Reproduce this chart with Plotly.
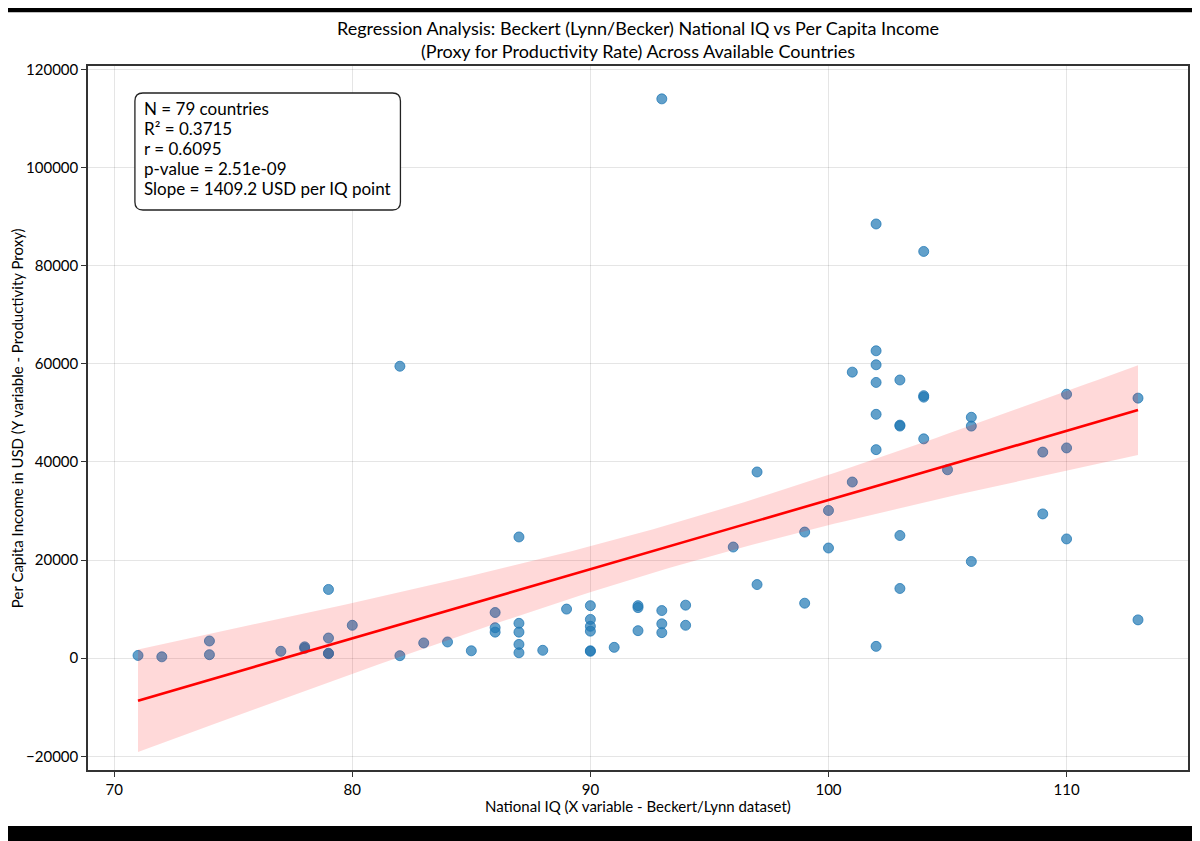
"""
Regression scatter: national IQ vs per capita income
"""
import numpy as np
import plotly.graph_objects as go

# ---- data ----
iq = [71, 72, 74, 74, 77, 78, 78, 79, 79, 79, 79, 80,
      82, 82, 83, 84, 85, 86, 86, 86, 87, 87, 87, 87, 87, 88, 89,
      90, 90, 90, 90, 90, 90, 91, 92, 92, 92, 93, 93, 93, 93, 94, 94,
      96, 97, 97, 99, 99, 100, 100, 101, 101,
      102, 102, 102, 102, 102, 102, 102, 103, 103, 103, 103, 103,
      104, 104, 104, 104, 105, 106, 106, 106, 109, 109, 110, 110, 110, 113, 113]
income = [550, 270, 3500, 700, 1400, 2000, 2300, 14000, 4100, 900, 1000, 6700,
          59500, 500, 3100, 3300, 1500, 9300, 6200, 5300, 24700, 7100, 5300, 2800, 1100, 1600, 10000,
          10700, 7900, 6500, 5500, 1400, 1500, 2200, 10700, 10300, 5600, 114000, 9700, 7000, 5200, 10800, 6700,
          22650, 37950, 15000, 25700, 11200, 30100, 22450, 35900, 58300,
          88500, 62650, 59800, 56200, 49700, 42500, 2400, 56700, 47500, 47300, 25000, 14200,
          82900, 53500, 53200, 44700, 38400, 49100, 47300, 19700, 42000, 29400, 53800, 42850, 24300, 53000, 7800]

stats_lines = [
    "N = 79 countries",
    "R² = 0.3715",
    "r = 0.6095",
    "p-value = 2.51e-09",
    "Slope = 1409.2 USD per IQ point",
]

# ---- linear fit + 95% confidence band ----
x = np.array(iq, dtype=float)
y = np.array(income, dtype=float)
n = len(x)
slope, intercept = np.polyfit(x, y, 1)
resid = y - (intercept + slope * x)
s = np.sqrt((resid ** 2).sum() / (n - 2))
sxx = ((x - x.mean()) ** 2).sum()
xs = np.linspace(x.min(), x.max(), 100)
ys = intercept + slope * xs
half = 1.991 * s * np.sqrt(1 / n + (xs - x.mean()) ** 2 / sxx)

FONT = "Lato"

# the page body adds an 8px offset, so the figure is laid out 8px up/left
OFF = 8
W, H = 1200 - OFF, 841 - OFF
L, R, T, B = 88 - OFF, 1190 - OFF, 66 - OFF, 770 - OFF


def px(v):
    return (v - OFF - L) / (R - L)


def py(v):
    return (B - (v - OFF)) / (B - T)


fig = go.Figure()

fig.add_trace(go.Scatter(
    x=iq, y=income, mode="markers",
    marker=dict(size=10, color="rgba(31,119,180,0.7)",
                line=dict(width=1, color="rgba(31,119,180,0.75)")),
    showlegend=False, hoverinfo="x+y",
))

fig.add_trace(go.Scatter(
    x=np.concatenate([xs, xs[::-1]]),
    y=np.concatenate([ys + half, (ys - half)[::-1]]),
    fill="toself", fillcolor="rgba(255,0,0,0.15)",
    line=dict(width=0), mode="lines", showlegend=False, hoverinfo="skip",
))

fig.add_trace(go.Scatter(
    x=xs, y=ys, mode="lines", line=dict(color="red", width=2.6),
    showlegend=False, hoverinfo="skip",
))

# rounded box behind the stats text
x0, x1, y0, y1 = px(135), px(401), py(210), py(93)
rx, ry = 8 / (R - L), 8 / (B - T)
box = (f"M {x0+rx},{y1} L {x1-rx},{y1} Q {x1},{y1} {x1},{y1-ry} "
       f"L {x1},{y0+ry} Q {x1},{y0} {x1-rx},{y0} "
       f"L {x0+rx},{y0} Q {x0},{y0} {x0},{y0+ry} "
       f"L {x0},{y1-ry} Q {x0},{y1} {x0+rx},{y1} Z")

shapes = [
    dict(type="path", xref="paper", yref="paper", path=box,
         fillcolor="white", line=dict(color="#222", width=1.3), layer="above"),
    # letterbox bars
    dict(type="rect", xref="paper", yref="paper", x0=-0.2, x1=1.2,
         y0=py(12.3), y1=1.3, fillcolor="black", line=dict(width=0)),
    dict(type="rect", xref="paper", yref="paper", x0=-0.2, x1=1.2,
         y0=-0.3, y1=py(826), fillcolor="black", line=dict(width=0)),
]

annotations = [
    dict(xref="paper", yref="paper", x=0.5, y=py(806), xanchor="center", yanchor="middle",
         text="National IQ (X variable - Beckert/Lynn dataset)", showarrow=False,
         font=dict(family=FONT, size=15, color="black")),
    dict(xref="paper", yref="paper", x=px(17), y=0.5, xanchor="center", yanchor="middle",
         text="Per Capita Income in USD (Y variable - Productivity Proxy)", showarrow=False,
         textangle=-90, font=dict(family=FONT, size=15, color="black")),
]
for i, line in enumerate(stats_lines):
    annotations.append(dict(
        xref="paper", yref="paper", x=px(142), y=py(109 + 19.75 * i),
        xanchor="left", yanchor="middle", text=line, showarrow=False,
        font=dict(family=FONT, size=17, color="black"),
    ))

axis_common = dict(
    showline=True, linecolor="#333", linewidth=1.5, mirror=True,
    ticks="outside", ticklen=5, tickcolor="#333", tickwidth=1.2,
    showgrid=True, gridcolor="rgba(0,0,0,0.1)", gridwidth=1,
    zeroline=False, tickfont=dict(family=FONT, size=15, color="black"),
)

fig.update_layout(
    width=W, height=H,
    margin=dict(l=L, r=W - R, t=T, b=H - B),
    paper_bgcolor="white", plot_bgcolor="white",
    title=dict(
        text="Regression Analysis: Beckert (Lynn/Becker) National IQ vs Per Capita Income<br>"
             "(Proxy for Productivity Rate) Across Available Countries",
        x=0.5, xref="paper", xanchor="center", y=1 - 27 / H, yanchor="middle",
        font=dict(family=FONT, size=18, color="black"),
    ),
    xaxis=dict(range=[68.9, 115.1], dtick=10, tick0=70, **axis_common),
    yaxis=dict(range=[-22800, 120700], dtick=20000, tick0=0, tickformat="d", **axis_common),
    shapes=shapes, annotations=annotations,
)

fig.write_html("out.html")
